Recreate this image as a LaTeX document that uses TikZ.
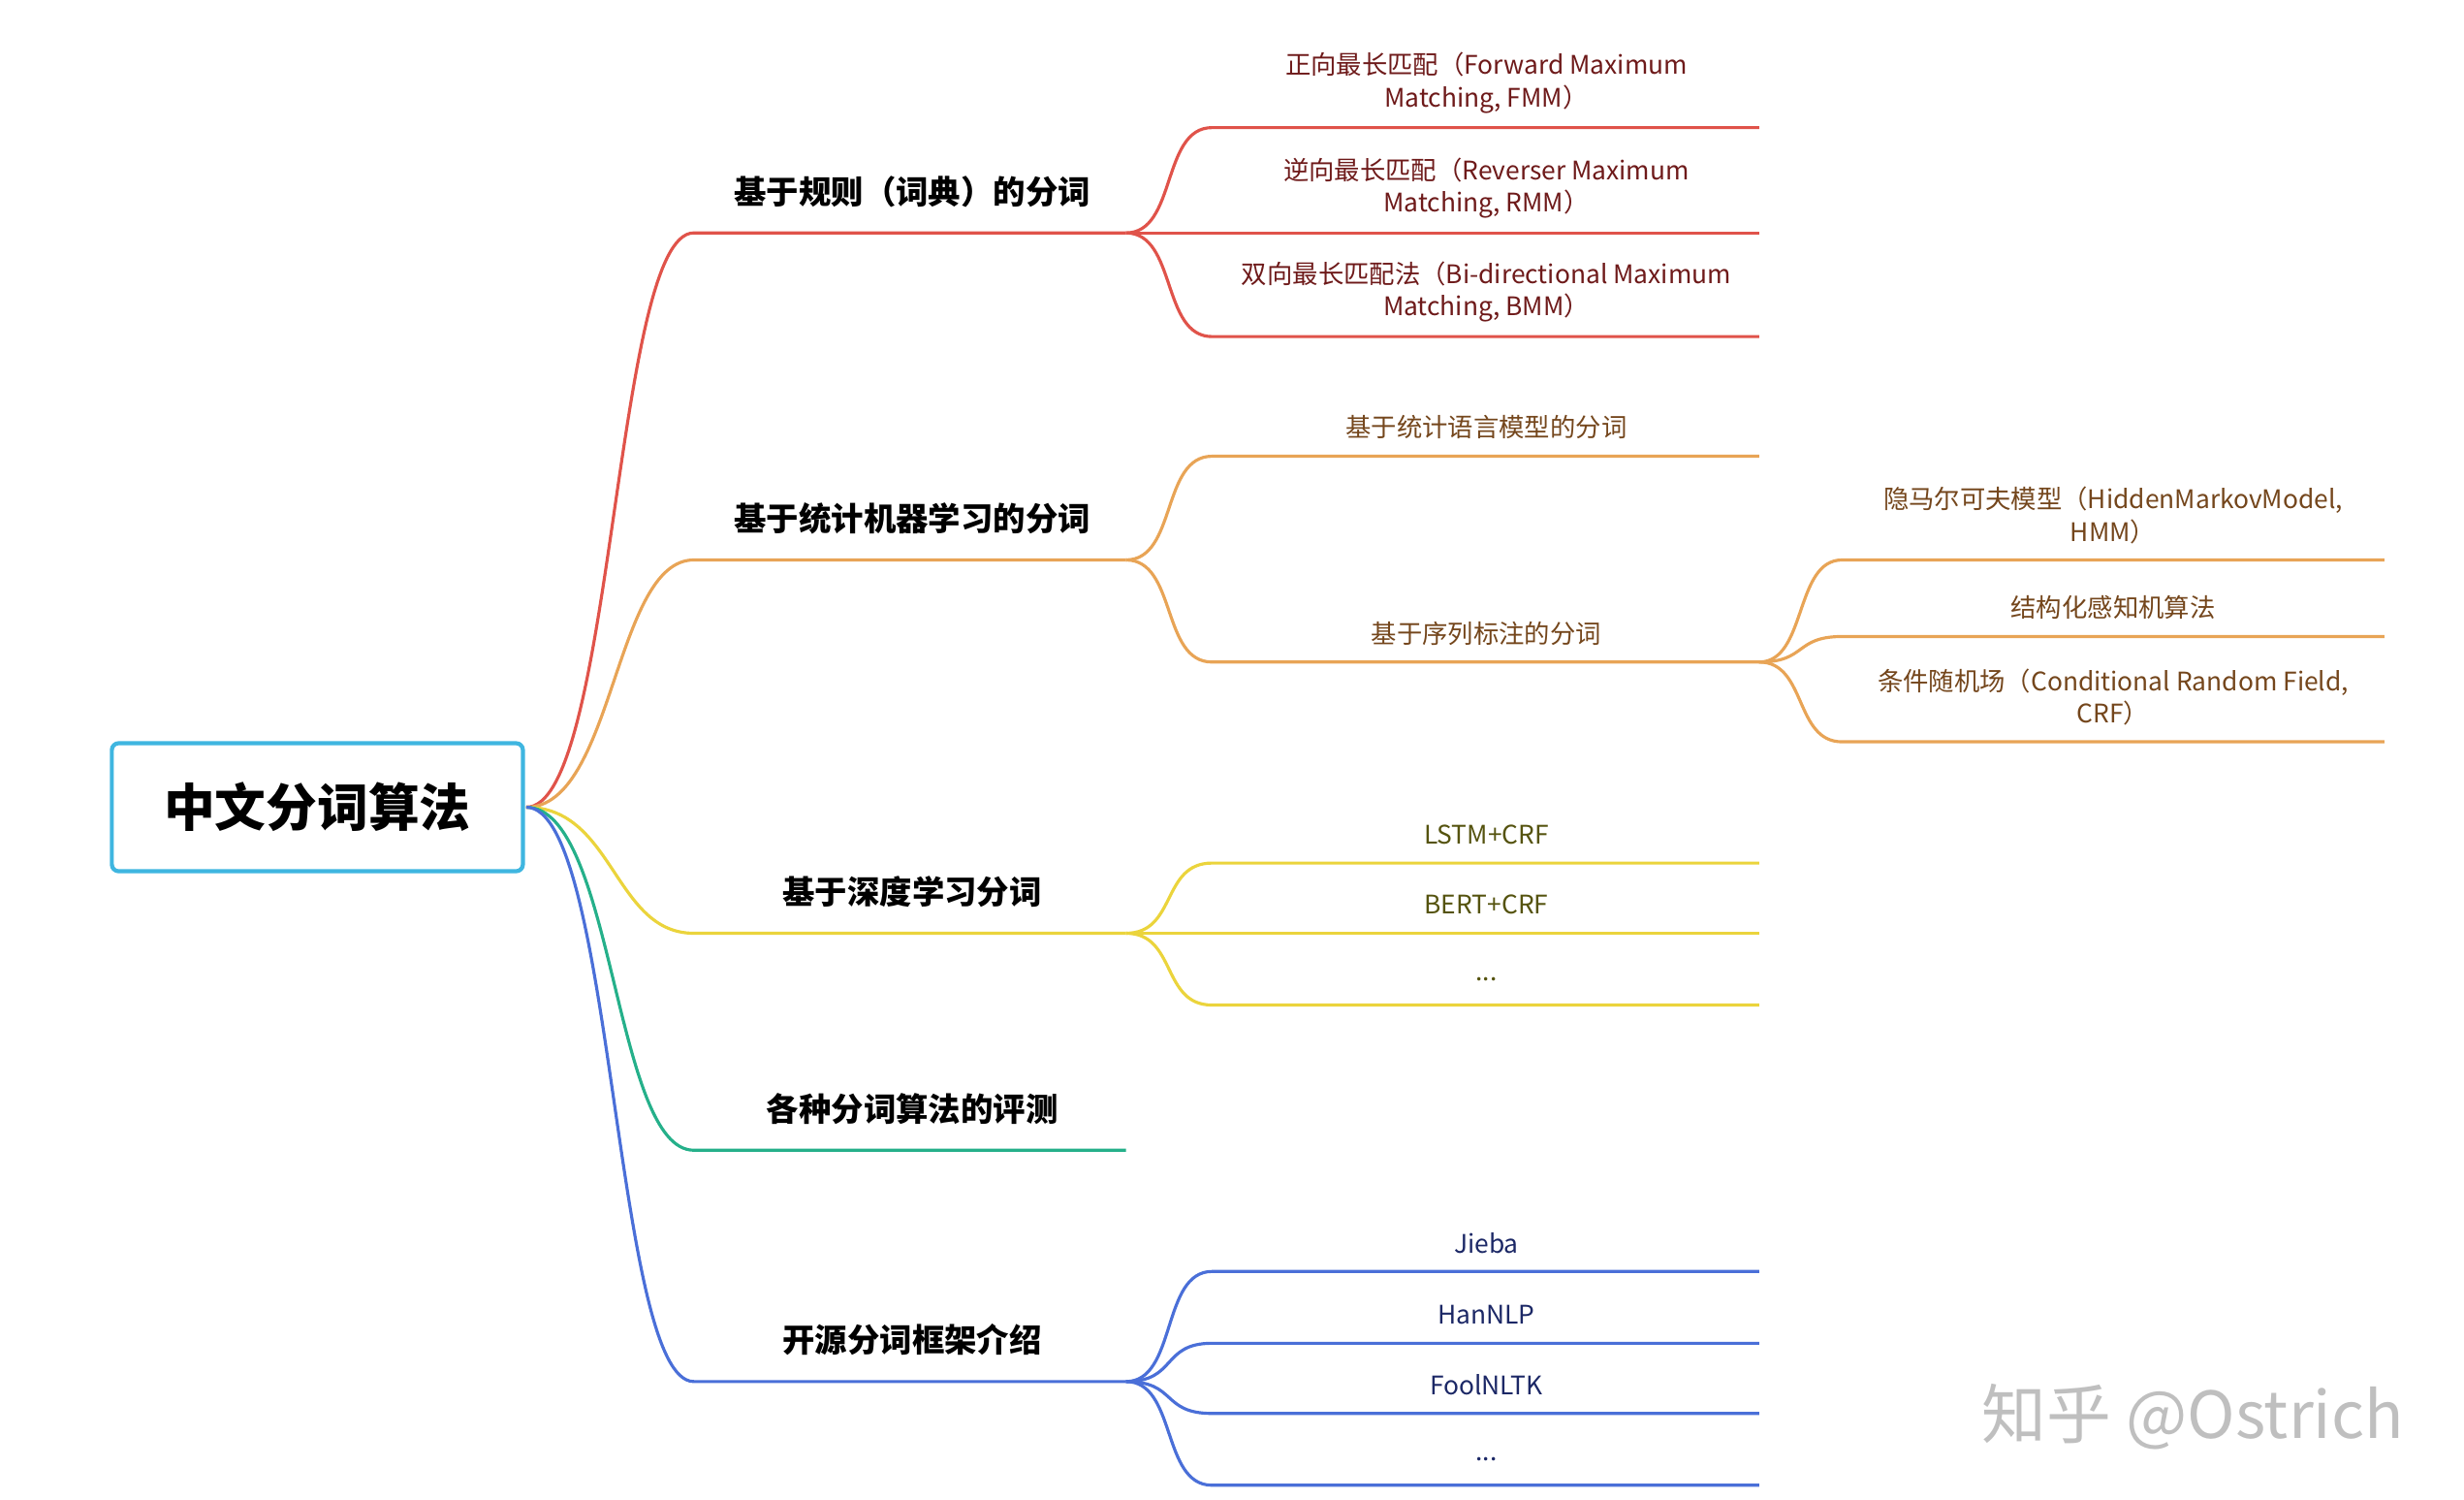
\documentclass[tikz,border=0pt]{standalone}
\usepackage{fontspec}
\setmainfont{Noto Sans CJK SC}
\usetikzlibrary{calc,positioning}
\definecolor{cred}{HTML}{E0534A}
\definecolor{corange}{HTML}{E8A456}
\definecolor{cyellow}{HTML}{EBD43C}
\definecolor{cgreen}{HTML}{25B08A}
\definecolor{cblue}{HTML}{4A6FD8}
\definecolor{tred}{HTML}{6E1A1A}
\definecolor{torange}{HTML}{74461C}
\definecolor{tyellow}{HTML}{55530F}
\definecolor{tblue}{HTML}{1C2866}
\definecolor{ccyan}{HTML}{3FB6E0}
\tikzset{
  br/.style={line width=0.9pt},
  rootbox/.style={draw=ccyan, line width=1.2pt, rounded corners=2pt, minimum width=4.24cm, minimum height=1.32cm, font=\fontsize{15}{18}\selectfont\bfseries},
  lone/.style={font=\fontsize{9.5}{11}\selectfont\bfseries},
  ltwo/.style={font=\fontsize{7.5}{9.5}\selectfont, align=center}
}
\begin{document}
\begin{tikzpicture}[x=0.016453cm,y=-0.016453cm]
      \useasboundingbox (0,0) rectangle (1545,940);

      % Root
      \node[rootbox] (root) at (199,506) {中文分词算法};
      \coordinate (r) at (330,506);

      % First level
      \foreach \name/\y/\col/\txt in {rule/146/cred/{基于规则（词典）的分词}, stat/351/corange/{基于统计机器学习的分词}, deep/585/cyellow/{基于深度学习分词}, eval/721/cgreen/{各种分词算法的评测}, open/866/cblue/{开源分词框架介绍}} {
        \coordinate (\name s) at (435,\y);
        \coordinate (\name e) at (706,\y);
        \draw[br,\col] (r) .. controls (385,506) and (385,\y) .. (\name s) -- (\name e);
        \node[lone] (\name l) at (572,\y-26) {\txt};
      }

      % Second level
      \foreach \p/\name/\y/\col/\tcol/\dy/\txt in {
        rule/fmm/80/cred/tred/28/{正向最长匹配（Forward Maximum\\Matching, FMM）},
        rule/rmm/146/cred/tred/28/{逆向最长匹配（Reverser Maximum\\Matching, RMM）},
        rule/bmm/211/cred/tred/28/{双向最长匹配法（Bi-directional Maximum\\Matching, BMM）},
        stat/lm/286/corange/torange/18/{基于统计语言模型的分词},
        stat/seq/415/corange/torange/18/{基于序列标注的分词},
        deep/lstm/541/cyellow/tyellow/18/{LSTM+CRF},
        deep/bert/585/cyellow/tyellow/18/{BERT+CRF},
        deep/dots/630/cyellow/tyellow/16/{...},
        open/jieba/797/cblue/tblue/18/{Jieba},
        open/han/842/cblue/tblue/18/{HanNLP},
        open/fool/886/cblue/tblue/18/{FoolNLTK},
        open/odots/931/cblue/tblue/16/{...}} {
        \coordinate (\name s) at (760,\y);
        \coordinate (\name e) at (1103,\y);
        \draw[br,\col] (\p e) .. controls ($(\p e)+(32,0)$) and ($(\name s)+(-32,0)$) .. (\name s) -- (\name e);
        \node[ltwo,text=\tcol] (\name l) at (932,\y-\dy) {\txt};
      }

      % Third level
      \foreach \name/\y/\dy/\txt in {
        hmm/351/28/{隐马尔可夫模型（HiddenMarkovModel,\\HMM）},
        perc/399/18/{结构化感知机算法},
        crf/465/28/{条件随机场（Conditional Random Field,\\CRF）}} {
        \coordinate (\name s) at (1155,\y);
        \coordinate (\name e) at (1495,\y);
        \draw[br,corange] (seqe) .. controls ($(seqe)+(30,0)$) and ($(\name s)+(-30,0)$) .. (\name s) -- (\name e);
        \node[ltwo,text=torange] (\name l) at (1325,\y-\dy) {\txt};
      }

      % Watermark
      \node[text=black!25, font=\fontsize{19}{22}\selectfont] (mark) at (1375,888) {知乎 @Ostrich};
\end{tikzpicture}
\end{document}
